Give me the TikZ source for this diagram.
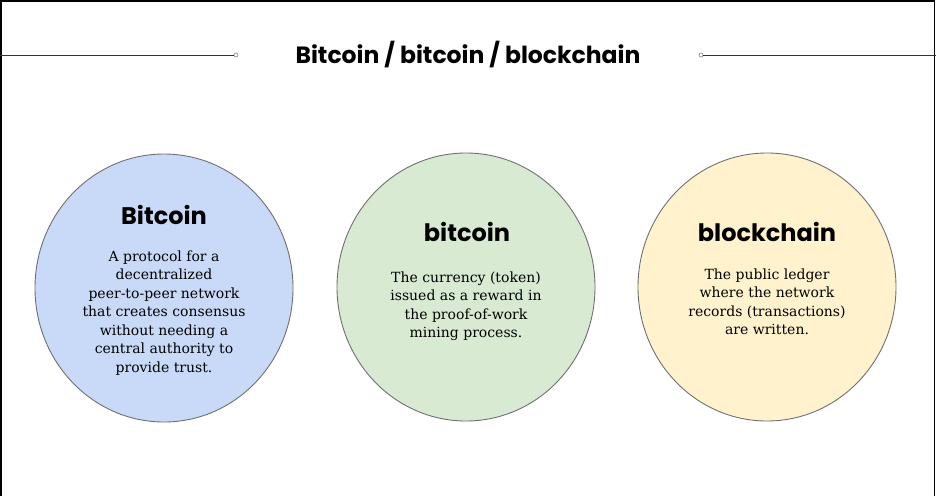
\documentclass[tikz,border=0pt]{standalone}
\usepackage{fontspec}
\setmainfont{DejaVu Serif}
\newfontfamily\headfont{Poppins}[UprightFont=* Bold]
\usetikzlibrary{shapes.geometric}
\definecolor{cblue}{HTML}{C9DAF8}
\definecolor{cgreen}{HTML}{D9EAD3}
\definecolor{cyellow}{HTML}{FFF2CC}
\definecolor{edge}{HTML}{707070}
\begin{document}
\begin{tikzpicture}[x=1pt,y=-1pt,
  bubble/.style={ellipse, draw=edge, line width=0.9pt, minimum width=258pt, minimum height=268pt, inner sep=0pt},
  head/.style={font=\headfont\fontsize{24}{28}\selectfont},
  body/.style={align=center, font=\fontsize{14}{18.5}\selectfont},
  rule/.style={draw=black!80, line width=1pt},
  endpt/.style={circle, draw=gray, fill=white, line width=0.6pt, minimum size=4pt, inner sep=0pt}
]
\useasboundingbox (0,0) rectangle (936,496);
\fill[white] (0,0) rectangle (936,496);
% frame
\coordinate (fbl) at (1,496);
\coordinate (ftl) at (1,0.8);
\coordinate (ftr) at (934.5,0.8);
\coordinate (fbr) at (934.5,496);
\draw[line width=1.5pt] (fbl) -- (ftl) -- (ftr) -- (fbr);
% title
\node[font=\headfont\fontsize{23.5}{28}\selectfont] (title) at (468,55) {Bitcoin / bitcoin / blockchain};
\coordinate (la) at (0,55);
\node[endpt] (lb) at (236,55) {};
\node[endpt] (rb) at (701,55) {};
\coordinate (ra) at (936,55);
\draw[rule] (la) -- (lb);
\draw[rule] (rb) -- (ra);
% circles
\node[bubble, fill=cblue] (c1) at (164,288) {};
\node[bubble, fill=cgreen] (c2) at (466,287) {};
\node[bubble, fill=cyellow] (c3) at (767,287) {};
\node[head] (h1) at (164,215) {Bitcoin};
\node[head] (h2) at (467,232) {bitcoin};
\node[head] (h3) at (767,232) {blockchain};
\node[body] (b1) at (164,313) {A protocol for a\\decentralized\\peer-to-peer network\\that creates consensus\\without needing a\\central authority to\\provide trust.};
\node[body] (b2) at (466,306) {The currency (token)\\issued as a reward in\\the proof-of-work\\mining process.};
\node[body] (b3) at (767,302) {The public ledger\\where the network\\records (transactions)\\are written.};
\end{tikzpicture}
\end{document}
